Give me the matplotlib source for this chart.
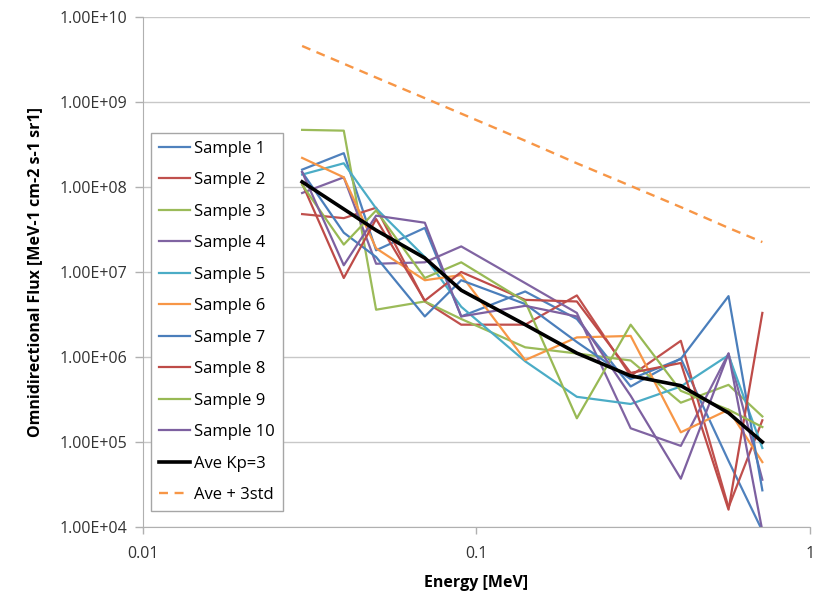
import numpy as np
import matplotlib
matplotlib.use("Agg")
import matplotlib.pyplot as plt

plt.rcParams['font.family'] = ['Open Sans', 'DejaVu Sans']

# energy channels [MeV]
energy = [0.03, 0.04, 0.05, 0.07, 0.09, 0.14, 0.2, 0.29, 0.41, 0.57, 0.72]

# flux per sample
sample1 = [1.6e8, 2.5e8, 1.8e7, 3.3e7, 3.0e6, 5.9e6, 2.8e6, 4.5e5, 9.6e5, 6.0e4, 9.0e3]
sample2 = [4.8e7, 4.3e7, 5.7e7, 4.5e6, 2.4e6, 2.4e6, 5.3e6, 6.0e5, 1.55e6, 1.7e4, 1.8e5]
sample3 = [4.7e8, 4.6e8, 3.6e6, 4.5e6, 2.8e6, 1.3e6, 1.1e6, 9.1e5, 2.9e5, 4.7e5, 2.0e5]
sample4 = [8.5e7, 1.3e8, 1.25e7, 1.3e7, 2.0e7, 7.4e6, 3.3e6, 1.45e5, 9.0e4, 1.1e6, 3.6e4]
sample5 = [1.4e8, 1.9e8, 5.6e7, 1.5e7, 3.9e6, 8.9e5, 3.4e5, 2.8e5, 4.5e5, 1.05e6, 8.5e4]
sample6 = [2.2e8, 1.3e8, 1.9e7, 8.0e6, 9.2e6, 9.2e5, 1.7e6, 1.77e6, 1.3e5, 2.4e5, 5.8e4]
sample7 = [1.5e8, 2.9e7, 1.5e7, 3.0e6, 8.0e6, 4.2e6, 1.5e6, 5.5e5, 9.5e5, 5.2e6, 2.7e4]
sample8 = [1.1e8, 8.5e6, 4.2e7, 4.6e6, 1.0e7, 4.7e6, 4.5e6, 6.5e5, 8.5e5, 1.6e4, 3.3e6]
sample9 = [1.06e8, 2.1e7, 5.3e7, 8.5e6, 1.3e7, 4.5e6, 1.9e5, 2.4e6, 4.0e5, 2.4e5, 1.5e5]
sample10 = [1.5e8, 1.2e7, 4.6e7, 3.8e7, 3.0e6, 4.0e6, 3.0e6, 3.5e5, 3.7e4, 1.1e6, 9.0e3]

ave_kp3 = [1.15e8, 5.5e7, 3.1e7, 1.46e7, 6.1e6, 2.4e6, 1.11e6, 6.0e5, 4.6e5, 2.2e5, 1.0e5]
ave_3std = [4.56e9, 2.82e9, 1.94e9, 1.11e9, 7.3e8, 3.5e8, 1.9e8, 1.03e8, 5.8e7, 3.3e7, 2.25e7]

samples = [sample1, sample2, sample3, sample4, sample5,
           sample6, sample7, sample8, sample9, sample10]
labels = ['Sample %d' % (i + 1) for i in range(len(samples))]
colors = ['#4F81BD', '#C0504D', '#9BBB59', '#8064A2', '#4BACC6',
          '#F79646', '#4A7EBB', '#BE4B48', '#98B954', '#7D60A0']

fig = plt.figure(figsize=(8.14, 5.92), dpi=100)
ax = fig.add_axes([0.1757, 0.1098, 0.8193, 0.8615])

for vals, lab, col in zip(samples, labels, colors):
    ax.plot(energy, vals, color=col, lw=1.6, label=lab)

ax.plot(energy, ave_kp3, color='black', lw=2.6, label='Ave Kp=3')
ax.plot(energy, ave_3std, color='#F79646', lw=1.7, ls=(0, (3.8, 2.8)),
        label='Ave + 3std')

ax.set_xscale('log')
ax.set_yscale('log')
ax.set_xlim(0.01, 1)
ax.set_ylim(1e4, 1e10)

yticks = [1e4, 1e5, 1e6, 1e7, 1e8, 1e9, 1e10]
ax.set_yticks(yticks)
ax.set_yticklabels(['1.00E+%02d' % int(np.log10(t)) for t in yticks],
                   fontsize=11.5, color='#333333')
ax.set_xticks([0.01, 0.1, 1])
ax.set_xticklabels(['0.01', '0.1', '1'], fontsize=11.5, color='#333333')
ax.minorticks_off()

ax.grid(axis='y', color='#C8C8C8', lw=1)
ax.set_axisbelow(True)
for side in ['top', 'right']:
    ax.spines[side].set_visible(False)
for side in ['left', 'bottom']:
    ax.spines[side].set_color('#B0B0B0')
ax.tick_params(axis='y', color='#B0B0B0', length=6, width=1, pad=5)
ax.tick_params(axis='x', color='#B0B0B0', length=5, width=1, pad=9)

ax.set_xlabel('Energy [MeV]', fontweight='bold', fontsize=11.5, labelpad=9)
ax.set_ylabel('Omnidirectional Flux [MeV-1 cm-2 s-1 sr1]',
              fontweight='bold', fontsize=11.5, labelpad=12)

leg = ax.legend(loc='upper left', bbox_to_anchor=(0.012, 0.7725),
                borderaxespad=0, fontsize=12, labelspacing=0.93,
                handlelength=1.9, handletextpad=0.25, borderpad=0.45,
                fancybox=False, framealpha=1, edgecolor='#A6A6A6')
leg.get_frame().set_linewidth(1)

fig.savefig('out.png', dpi=100)
